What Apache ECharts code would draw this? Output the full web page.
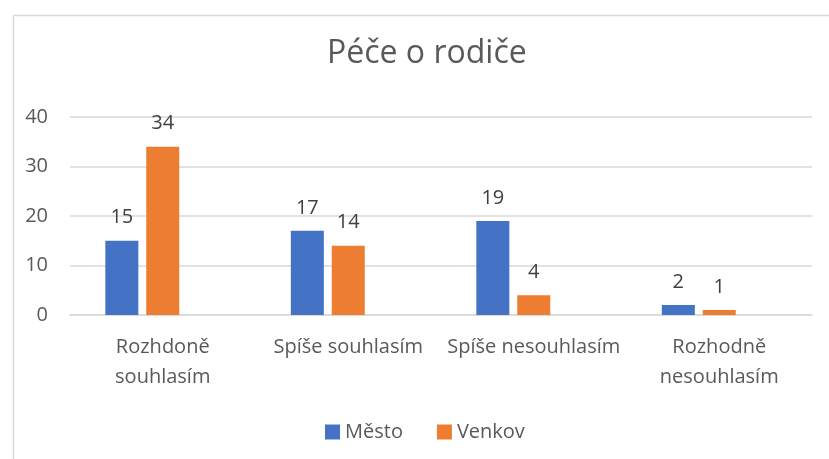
<!DOCTYPE html>
<html>
<head>
<meta charset="utf-8">
<script src="https://cdn.jsdelivr.net/npm/echarts@6/dist/echarts.min.js"></script>
<style>
  html, body { margin: 0; padding: 0; background: #fff; }
  #myChart { width: 829px; height: 459px; }
</style>
</head>
<body>
<div id="myChart"></div>
<script>
// data
var categories = ['Rozhdoně\nsouhlasím', 'Spíše souhlasím', 'Spíše nesouhlasím', 'Rozhodně\nnesouhlasím'];
var mestoData = [15, 17, 19, 2];
var venkovData = [34, 14, 4, 1];
var emptyData = [null, null, null, null]; // hidden third series, keeps Excel-like offset
var yTicks = [0, 10, 20, 30, 40];

var textColor = '#595959';
var fontFam = 'Open Sans';

var myChart_1 = echarts.init(document.getElementById('myChart'));

var option = {
    color: ['#4472c4', '#ed7d31'],
    animation: false,
    title: {
        text: 'Péče o rodiče', left: 322, top: 33,
        textStyle: { color: textColor, fontSize: 32, fontWeight: 'normal', fontFamily: fontFam }
    },
    graphic: [{
        type: 'rect', left: 11, top: 13, silent: true,
        shape: { width: 840, height: 470 },
        style: { fill: 'none', stroke: '#d9d9d9', lineWidth: 1.5 }
    }],
    legend: {
        data: ['Město', 'Venkov'], left: 320, top: 417,
        itemWidth: 15, itemHeight: 15, itemGap: 34,
        icon: 'rect',
        textStyle: { color: textColor, fontSize: 20, fontFamily: fontFam }
    },
    grid: { left: 70, right: 17, top: 117, bottom: 144 },
    xAxis: {
        type: 'category',
        data: categories,
        axisTick: { show: false },
        axisLine: { show: true, lineStyle: { color: '#d9d9d9', width: 1.5 } },
        axisLabel: { color: textColor, fontSize: 20, fontFamily: fontFam, margin: 17, lineHeight: 30, interval: 0 }
    },
    yAxis: {
        type: 'value',
        min: yTicks[0], max: yTicks[yTicks.length - 1], interval: 10,
        axisLine: { show: false },
        axisTick: { show: false },
        splitLine: { show: true, lineStyle: { color: '#d9d9d9', width: 1.5 } },
        axisLabel: { color: textColor, fontSize: 20, fontFamily: fontFam, margin: 22, padding: [6, 0, 0, 0] }
    },
    series: [
        {
            name: 'Město', type: 'bar', data: mestoData, barWidth: 33, barGap: '24%',
            label: { show: true, position: 'top', distance: 13, color: '#404040', fontSize: 20, fontFamily: fontFam }
        },
        {
            name: 'Venkov', type: 'bar', data: venkovData, barWidth: 33, barGap: '24%',
            label: { show: true, position: 'top', distance: 13, color: '#404040', fontSize: 20, fontFamily: fontFam }
        },
        {
            name: '', type: 'bar', data: emptyData, barWidth: 33, barGap: '24%'
        }
    ]
};

myChart_1.setOption(option);
</script>
</body>
</html>
